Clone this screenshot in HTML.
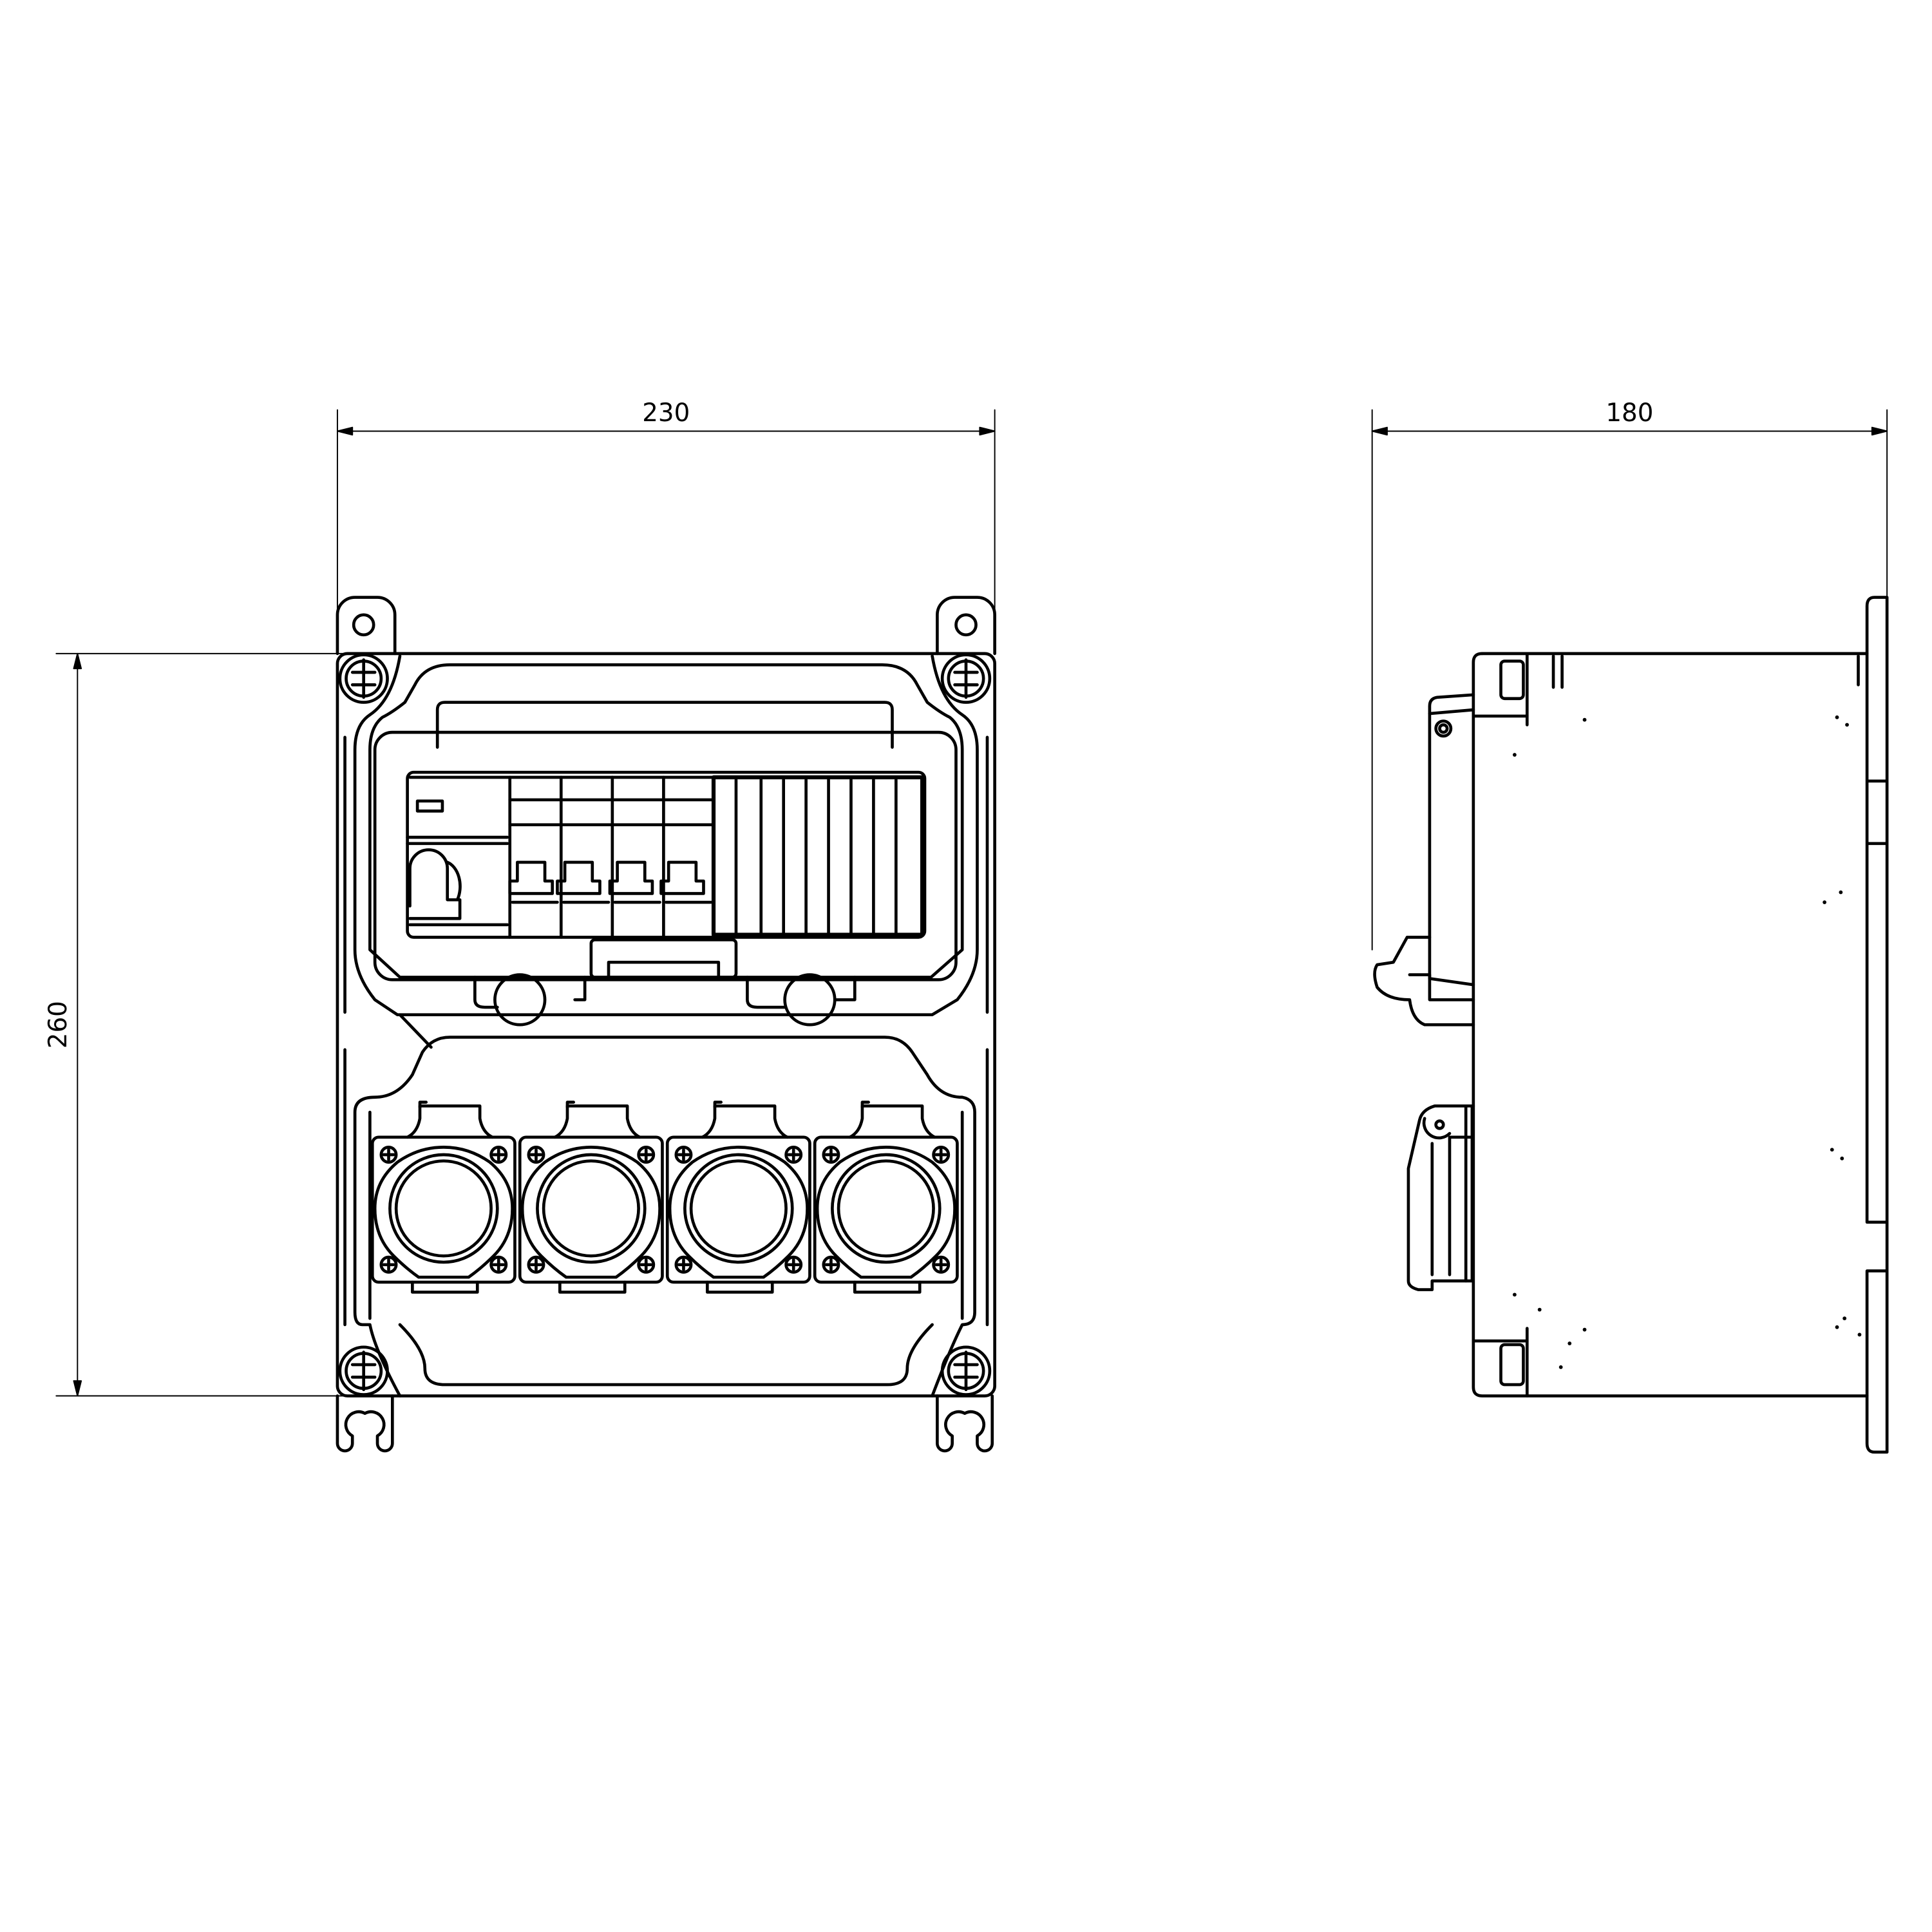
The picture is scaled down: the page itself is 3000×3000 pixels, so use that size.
<!DOCTYPE html>
<html><head><meta charset="utf-8"><style>html,body{margin:0;padding:0;background:#fff}svg{display:block}</style></head>
<body>
<svg width="3000" height="3000" viewBox="0 0 1546 1546" xmlns="http://www.w3.org/2000/svg" fill="none" stroke="#000" stroke-width="2.4" stroke-linejoin="round" stroke-linecap="round">
<!-- Dimensions -->
<g stroke-width="1">
<line x1="270" y1="328" x2="270" y2="520"/><line x1="796" y1="328" x2="796" y2="520"/>
<line x1="270" y1="345" x2="796" y2="345"/>
<path d="M270 345 l12 -3 v6z M796 345 l-12 -3 v6z" fill="#000"/>
<line x1="1098" y1="328" x2="1098" y2="760"/><line x1="1510" y1="328" x2="1510" y2="478"/>
<line x1="1098" y1="345" x2="1510" y2="345"/>
<path d="M1098 345 l12 -3 v6z M1510 345 l-12 -3 v6z" fill="#000"/>
<line x1="45" y1="523" x2="290" y2="523"/><line x1="45" y1="1117" x2="290" y2="1117"/>
<line x1="62" y1="523" x2="62" y2="1117"/>
<path d="M62 523 l-3 12 h6z M62 1117 l-3 -12 h6z" fill="#000"/>
</g>
<g font-family="'DejaVu Sans','Liberation Sans',sans-serif" font-size="20" fill="#000" stroke="none" text-anchor="middle">
<text x="533" y="337">230</text>
<text x="1304" y="337">180</text>
<text transform="translate(53,820) rotate(-90)">260</text>
</g>
<!-- Front view -->
<path d="M270 523 V492 a14 14 0 0 1 14 -14 h18 a14 14 0 0 1 14 14 V523"/>
<path d="M750 523 V492 a14 14 0 0 1 14 -14 h18 a14 14 0 0 1 14 14 V523"/>
<circle cx="291" cy="500" r="8"/><circle cx="773" cy="500" r="8"/>
<path d="M270 1117 V1155 a6 6 0 0 0 12 0 v-6 a5 5 0 0 1 10 -18 a5 5 0 0 1 10 18 v6 a6 6 0 0 0 12 0 V1117"/>
<path d="M750 1117 V1155 a6 6 0 0 0 12 0 v-6 a5 5 0 0 1 10 -18 a5 5 0 0 1 10 18 v6 a6 6 0 0 0 12 0 V1117"/>
<rect x="270" y="523" width="526" height="594" rx="8"/>
<line x1="276" y1="590" x2="276" y2="810"/><line x1="790" y1="590" x2="790" y2="810"/>
<line x1="276" y1="840" x2="276" y2="1060"/><line x1="790" y1="840" x2="790" y2="1060"/>
<g>
<circle cx="291" cy="543" r="19"/><circle cx="291" cy="543" r="14"/>
<circle cx="773" cy="543" r="19"/><circle cx="773" cy="543" r="14"/>
<circle cx="291" cy="1097" r="19"/><circle cx="291" cy="1097" r="14"/>
<circle cx="773" cy="1097" r="19"/><circle cx="773" cy="1097" r="14"/>
<path d="M282 538h18M282 548h18M291 528v30M764 538h18M764 548h18M773 528v30M282 1092h18M282 1102h18M291 1082v30M764 1092h18M764 1102h18M773 1082v30"/>
</g>
<!-- upper panel outline -->
<path d="M320 525 Q314 560 296 572 Q284 580 284 600 V760 Q284 780 300 800 L318 812 H746 L766 800 Q782 780 782 760 V600 Q782 580 770 572 Q752 560 746 525"/>
<path d="M332 548 Q340 532 360 532 H706 Q726 532 734 548 L742 562 Q752 570 760 574 Q770 582 770 600 V760 L745 782 H320 L296 760 V600 Q296 582 306 574 Q314 570 324 562Z"/>
<path d="M350 598 V568 Q350 562 356 562 H708 Q714 562 714 568 V598"/>
<rect x="300" y="586" width="465" height="198" rx="14"/>
<rect x="326" y="618" width="414" height="132" rx="5"/>
<line x1="328" y1="622" x2="571" y2="622"/>
<line x1="408" y1="622" x2="408" y2="750"/>
<line x1="449" y1="622" x2="449" y2="750"/><line x1="490" y1="622" x2="490" y2="750"/><line x1="531" y1="622" x2="531" y2="750"/>
<line x1="408" y1="640" x2="571" y2="640"/><line x1="408" y1="660" x2="571" y2="660"/>
<line x1="326" y1="670" x2="406" y2="670"/><line x1="326" y1="675" x2="406" y2="675"/>
<rect x="334" y="641" width="20" height="8"/>
<path d="M328 725 V695 a15 15 0 0 1 30 0 v25 h10 v15 h-40"/>
<path d="M358 690 a14 20 0 0 1 8 30"/>
<line x1="328" y1="740" x2="406" y2="740"/>
<g>
<path d="M414 705 v-15 h22 v15 h6 v10 h-34 v-10z M452 705 v-15 h22 v15 h6 v10 h-34 v-10z M494 705 v-15 h22 v15 h6 v10 h-34 v-10z M535 705 v-15 h22 v15 h6 v10 h-34 v-10z"/>
<path d="M410 722 h36 M451 722 h36 M492 722 h36 M533 722 h36"/>
</g>
<rect x="571" y="622" width="167" height="126" stroke-width="3.2"/>
<path d="M589 624V748M609 624V748M627 624V748M645 624V748M663 624V748M681 624V748M699 624V748M717 624V748"/>
<rect x="473" y="752" width="116" height="30" rx="3"/>
<rect x="487" y="770" width="88" height="12"/>
<!-- locks -->
<path d="M380 782 V800 Q380 806 388 806 H398 M468 782 V800 H460"/>
<circle cx="416" cy="800" r="20"/><circle cx="648" cy="800" r="20"/>
<path d="M598 782 V800 Q598 806 606 806 H628 M684 782 V800 H668"/>
<path d="M320 812 L345 838"/>
<!-- lower panel -->
<path d="M320 1117 Q300 1080 296 1060 H290 Q284 1060 284 1050 V890 Q284 878 300 878 Q318 878 330 860 L338 842 Q346 830 360 830 H708 Q722 830 730 842 L742 860 Q752 878 770 878 Q780 880 780 890 V1050 Q780 1060 770 1060 Q760 1080 746 1117"/>
<path d="M296 1055 V890 M770 890 V1055"/>
<path d="M320 1060 Q340 1080 340 1095 Q340 1108 356 1108 H710 Q726 1108 726 1095 Q726 1080 746 1060"/>
<!-- sockets -->
<g id="s">
<rect x="298" y="910" width="114" height="116" rx="5"/>
<path d="M326 910 Q334 906 336 895 V885 H384 V895 Q386 906 394 910"/>
<path d="M330 1026 V1034 H382 V1026"/>
<path d="M336 886 v-4 h5"/>
<path d="M318 930 Q300 945 300 967 Q300 990 315 1005 Q325 1015 335 1022 H375 Q385 1015 395 1005 Q410 990 410 967 Q410 945 392 930 Q375 918 355 918 Q335 918 318 930Z"/>
<circle cx="355" cy="967" r="43"/><circle cx="355" cy="967" r="38"/>
<circle cx="311" cy="924" r="6"/><circle cx="399" cy="924" r="6"/><circle cx="311" cy="1012" r="6"/><circle cx="399" cy="1012" r="6"/>
<path d="M307 924h8M311 920v8M395 924h8M399 920v8M307 1012h8M311 1008v8M395 1012h8M399 1008v8"/>
</g>
<use href="#s" x="118"/><use href="#s" x="236"/><use href="#s" x="354"/>
<!-- Side view -->
<path d="M1186 523 Q1179 523 1179 530 V1110 Q1179 1117 1186 1117 H1494"/>
<line x1="1186" y1="523" x2="1494" y2="523"/>
<line x1="1179" y1="573" x2="1222" y2="573"/><line x1="1179" y1="1073" x2="1222" y2="1073"/>
<line x1="1222" y1="523" x2="1222" y2="580"/><line x1="1222" y1="1063" x2="1222" y2="1117"/>
<rect x="1201" y="529" width="18" height="30" rx="3"/><rect x="1201" y="1076" width="18" height="32" rx="3"/>
<path d="M1243 525 V550 M1250 525 V550 M1487 525 V548"/>
<path d="M1494 485 Q1494 478 1500 478 H1510 V1162 H1500 Q1494 1162 1494 1155 V1017 M1494 1017 H1510 M1494 978 H1510 M1494 978 V675 M1494 675 H1510 M1494 625 H1510 M1494 485 V675"/>
<path d="M1179 556 L1150 558 Q1144 559 1144 565 V783 L1179 788"/>
<path d="M1144 571 L1179 568"/>
<circle cx="1155" cy="583" r="6"/><circle cx="1155" cy="583" r="3"/>
<path d="M1144 750 H1126 L1115 770 L1102 772 Q1098 778 1102 790 Q1110 800 1128 800 Q1130 816 1140 820 H1179"/>
<path d="M1128 780 H1144 V800 H1179"/>
<path d="M1179 885 H1148 Q1138 888 1136 896 L1127 935 V1025 Q1127 1030 1135 1032 H1146 V1025 H1178 V885"/>
<circle cx="1152" cy="900" r="3"/><path d="M1140 895 a12 12 0 0 0 20 12"/>
<path d="M1160 910 H1178 M1160 910 V1020 M1146 915 V1020 M1173 886 V1025"/>
<g fill="#000" stroke="none">
<circle cx="1268" cy="576" r="1.5"/><circle cx="1212" cy="604" r="1.5"/><circle cx="1470" cy="574" r="1.5"/><circle cx="1478" cy="580" r="1.5"/><circle cx="1460" cy="722" r="1.5"/><circle cx="1473" cy="714" r="1.5"/><circle cx="1466" cy="920" r="1.5"/><circle cx="1474" cy="927" r="1.5"/><circle cx="1212" cy="1036" r="1.5"/><circle cx="1268" cy="1064" r="1.5"/><circle cx="1256" cy="1075" r="1.5"/><circle cx="1249" cy="1094" r="1.5"/><circle cx="1470" cy="1062" r="1.5"/><circle cx="1476" cy="1055" r="1.5"/><circle cx="1488" cy="1068" r="1.5"/><circle cx="1232" cy="1048" r="1.5"/>
</g>
</svg>
</body></html>
